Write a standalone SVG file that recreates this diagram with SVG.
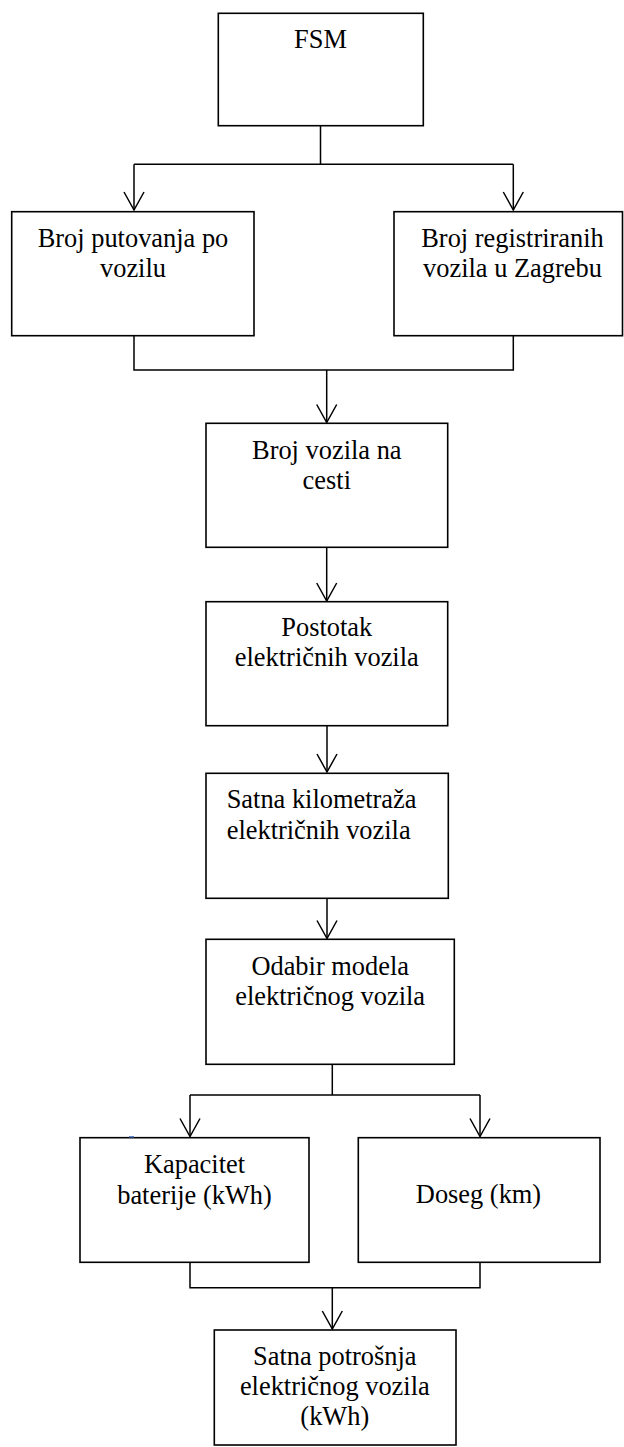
<svg xmlns="http://www.w3.org/2000/svg" width="624" height="1447" viewBox="0 0 624 1447">
<style>
.box{fill:#fff;stroke:#000;stroke-width:1.6}
.t{font-family:'Liberation Serif','Times New Roman',Tinos,'DejaVu Serif',serif;font-size:26.4px;fill:#000;text-anchor:middle}
.tl{text-anchor:start}
.c{fill:none;stroke:#000;stroke-width:1.5}
</style>
<defs>
<marker id="arr" markerUnits="userSpaceOnUse" markerWidth="40" markerHeight="40" refX="0" refY="0" orient="auto" overflow="visible">
<path d="M-18,-10 L0,0 L-18,10" fill="none" stroke="#000" stroke-width="1.5"/>
</marker>
</defs>
<rect width="624" height="1447" fill="#fff"/>
<g id="connectors">
<path class="c" d="M320.5,126 V164.3 M134,164.3 H513.3"/>
<path class="c" d="M134,164.3 V210" marker-end="url(#arr)"/>
<path class="c" d="M513.3,164.3 V210" marker-end="url(#arr)"/>
<path class="c" d="M134,336 V370 H513.3 V336"/>
<path class="c" d="M326.7,370 V422.5" marker-end="url(#arr)"/>
<path class="c" d="M326.7,547.3 V601" marker-end="url(#arr)"/>
<path class="c" d="M327,726 V772" marker-end="url(#arr)"/>
<path class="c" d="M327,898.3 V938.5" marker-end="url(#arr)"/>
<path class="c" d="M332.3,1064.3 V1095 M190,1095 H480"/>
<path class="c" d="M190,1095 V1136.5" marker-end="url(#arr)"/>
<path class="c" d="M480,1095 V1136.5" marker-end="url(#arr)"/>
<path class="c" d="M190,1262.3 V1287.7 H480 V1262.3"/>
<path class="c" d="M332.3,1287.7 V1329" marker-end="url(#arr)"/>
</g>
<g font-family="Liberation Serif, serif">
<g id="fsm">
<rect class="box" x="218.3" y="13.3" width="205" height="112.4"/>
<text class="t" x="320.5" y="47.7">FSM</text>
</g>
<g id="putovanja">
<rect class="box" x="11.7" y="211.7" width="242.3" height="124"/>
<text class="t" x="133" y="246.7">Broj putovanja po</text>
<text class="t" x="133" y="276.5">vozilu</text>
</g>
<g id="registriranih">
<rect class="box" x="394" y="211.7" width="228.5" height="124"/>
<text class="t" x="512.5" y="246.7">Broj registriranih</text>
<text class="t" x="512.5" y="276.5">vozila u Zagrebu</text>
</g>
<g id="vozila-cesta">
<rect class="box" x="206" y="423.3" width="241.7" height="124"/>
<text class="t" x="326.8" y="459">Broj vozila na</text>
<text class="t" x="326.8" y="488.5">cesti</text>
</g>
<g id="postotak">
<rect class="box" x="206" y="601.7" width="241.7" height="124"/>
<text class="t" x="326.8" y="636">Postotak</text>
<text class="t" x="326.8" y="666">električnih vozila</text>
</g>
<g id="kilometraza">
<rect class="box" x="206" y="773.3" width="242.3" height="125"/>
<text class="t tl" x="226.7" y="808.3">Satna kilometraža</text>
<text class="t tl" x="226.7" y="839">električnih vozila</text>
</g>
<g id="odabir">
<rect class="box" x="206" y="939.3" width="248.3" height="125"/>
<text class="t" x="330.2" y="975">Odabir modela</text>
<text class="t" x="330.2" y="1005">električnog vozila</text>
</g>
<g id="kapacitet">
<rect class="box" x="80" y="1137.7" width="229" height="124.6"/>
<rect x="129" y="1136.2" width="5" height="1.3" fill="#4472C4"/>
<text class="t" x="194.5" y="1173">Kapacitet</text>
<text class="t" x="194.5" y="1204">baterije (kWh)</text>
</g>
<g id="doseg">
<rect class="box" x="358.3" y="1137.7" width="241.7" height="124.6"/>
<text class="t" x="478.5" y="1203.3">Doseg (km)</text>
</g>
<g id="potrosnja">
<rect class="box" x="214.3" y="1330" width="241.7" height="115"/>
<text class="t" x="334.8" y="1365">Satna potrošnja</text>
<text class="t" x="334.8" y="1395">električnog vozila</text>
<text class="t" x="334.8" y="1425">(kWh)</text>
</g>
</g>
</svg>
